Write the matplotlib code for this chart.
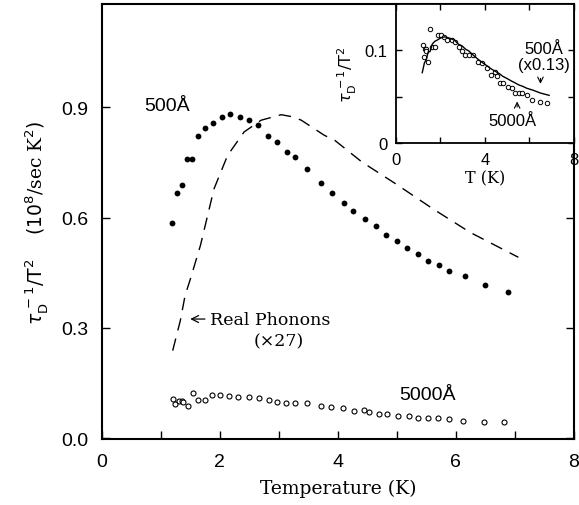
import numpy as np
import matplotlib
matplotlib.use("Agg")
import matplotlib.pyplot as plt

# 500 A film (filled dots)
t_500 = [1.18, 1.28, 1.36, 1.45, 1.53, 1.63, 1.74, 1.88, 2.03, 2.18, 2.34, 2.49,
         2.65, 2.81, 2.97, 3.14, 3.27, 3.47, 3.71, 3.90, 4.10, 4.26, 4.46, 4.65,
         4.81, 5.00, 5.17, 5.36, 5.53, 5.71, 5.88, 6.16, 6.50, 6.89]
r_500 = [0.585, 0.668, 0.690, 0.759, 0.759, 0.822, 0.844, 0.858, 0.875, 0.882, 0.875, 0.866,
         0.851, 0.821, 0.807, 0.778, 0.766, 0.731, 0.693, 0.667, 0.641, 0.619, 0.597, 0.577,
         0.554, 0.536, 0.518, 0.500, 0.483, 0.471, 0.456, 0.440, 0.416, 0.397]

# 5000 A film (open circles)
t_5000 = [1.21, 1.24, 1.30, 1.36, 1.37, 1.46, 1.54, 1.63, 1.74, 1.87, 2.01, 2.15,
          2.30, 2.50, 2.67, 2.83, 2.97, 3.12, 3.27, 3.47, 3.71, 3.88, 4.09, 4.27,
          4.44, 4.53, 4.69, 4.83, 5.02, 5.20, 5.36, 5.52, 5.69, 5.88, 6.13, 6.48, 6.81]
r_5000 = [0.106, 0.093, 0.102, 0.102, 0.099, 0.088, 0.123, 0.104, 0.104, 0.117, 0.117, 0.115,
          0.111, 0.111, 0.109, 0.104, 0.099, 0.095, 0.095, 0.095, 0.088, 0.086, 0.081, 0.074,
          0.077, 0.072, 0.065, 0.065, 0.061, 0.059, 0.054, 0.054, 0.054, 0.052, 0.047, 0.044, 0.043]

# real phonons (x27), dashed
t_ph = [1.20, 1.33, 1.41, 1.50, 1.67, 1.90, 2.13, 2.41, 2.70, 3.04, 3.24, 3.38,
        3.77, 3.95, 4.41, 4.98, 5.61, 6.24, 7.06]
r_ph = [0.238, 0.320, 0.388, 0.433, 0.524, 0.678, 0.769, 0.833, 0.865, 0.880, 0.874, 0.865,
        0.824, 0.810, 0.751, 0.692, 0.624, 0.560, 0.492]

inset_scale = 0.13

serif = "DejaVu Serif"
sans = "Liberation Sans"

fig = plt.figure(figsize=(5.79, 5.06), dpi=100)
ax = fig.add_axes([0.176, 0.130, 0.815, 0.860])

ax.plot(t_500, r_500, 'o', color='black', ms=4.2, mew=0)
ax.plot(t_5000, r_5000, 'o', mfc='white', mec='black', ms=3.6, mew=0.8)
ax.plot(t_ph, r_ph, color='black', lw=1.0, ls=(0, (9, 6)))

ax.set_xlim(0, 8)
ax.set_ylim(-0.003, 1.181)
ax.set_xticks(np.arange(0, 9, 1))
ax.set_xticklabels(['0', '', '2', '', '4', '', '6', '', '8'])
ax.set_yticks([0.0, 0.3, 0.6, 0.9])
ax.set_yticklabels(['0.0', '0.3', '0.6', '0.9'])
ax.tick_params(direction='in', length=6, width=1, top=False, right=True,
               labelsize=14, pad=10)
for lab in ax.get_xticklabels() + ax.get_yticklabels():
    lab.set_family(sans)
for s in ax.spines.values():
    s.set_linewidth(1.5)

ax.set_xlabel('Temperature (K)', family=serif, fontsize=13.5, labelpad=6)
ax.set_ylabel(r'$\tau_{\rm D}^{\,-1}/{\rm T}^2$    $(10^8$/sec K$^2)$',
              family=serif, fontsize=13.5, labelpad=8)

ax.text(1.10, 0.905, '500Å', family=sans, fontsize=14, ha='center', va='center')
ax.text(5.52, 0.12, '5000Å', family=sans, fontsize=14, ha='center', va='center')
ax.annotate('Real Phonons', xy=(1.45, 0.324), xytext=(1.84, 0.324),
            family=serif, fontsize=12.5, ha='left', va='center',
            arrowprops=dict(arrowstyle='->', lw=0.9, color='black'))
ax.text(3.0, 0.264, '(×27)', family=serif, fontsize=12.5, ha='center', va='center')

# inset
ins = fig.add_axes([0.684, 0.715, 0.307, 0.275])
ins.plot(t_5000, r_5000, 'o', mfc='white', mec='black', ms=3.2, mew=0.7)
ins.plot(t_500, np.array(r_500) * inset_scale, color='black', lw=1.0)
ins.set_xlim(0, 8)
ins.set_ylim(0, 0.15)
ins.set_xticks([0, 2, 4, 6, 8])
ins.set_xticklabels(['0', '', '4', '', '8'])
ins.set_yticks([0, 0.05, 0.1])
ins.set_yticklabels(['0', '', '0.1'])
ins.tick_params(direction='in', length=4, width=1, top=True, right=True,
                labelsize=12, pad=6)
for lab in ins.get_xticklabels() + ins.get_yticklabels():
    lab.set_family(sans)
for s in ins.spines.values():
    s.set_linewidth(1.3)
ins.set_xlabel('T (K)', family=serif, fontsize=11.5, labelpad=2)
ins.set_ylabel(r'$\tau_{\rm D}^{\,-1}/{\rm T}^2$', family=serif, fontsize=11.5, labelpad=4)

ins.text(6.65, 0.102, '500Å', family=sans, fontsize=12, ha='center', va='center')
ins.text(6.65, 0.085, '(x0.13)', family=sans, fontsize=12, ha='center', va='center')
ins.annotate('', xy=(6.5, 0.061), xytext=(6.5, 0.073),
             arrowprops=dict(arrowstyle='->', lw=0.8, color='black'))
ins.text(5.23, 0.025, '5000Å', family=sans, fontsize=12, ha='center', va='center')
ins.annotate('', xy=(5.45, 0.048), xytext=(5.45, 0.036),
             arrowprops=dict(arrowstyle='->', lw=0.8, color='black'))

fig.savefig('out.png', dpi=100)
